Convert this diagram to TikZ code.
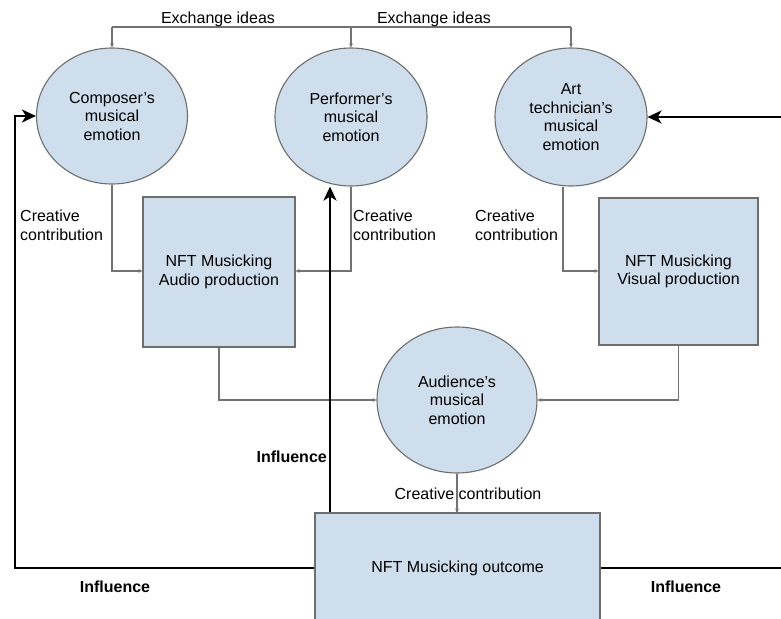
\documentclass[tikz,border=0pt]{standalone}
\usepackage{fontspec}
\setmainfont{Liberation Sans}
\usetikzlibrary{shapes.geometric,arrows.meta,positioning}

\definecolor{nodefill}{RGB}{207,222,237}
\definecolor{nodeline}{RGB}{110,110,110}
\definecolor{thinline}{RGB}{115,115,115}

\tikzset{
  every node/.style={font=\fontsize{16}{18.5}\selectfont},
  emotion/.style={ellipse, draw=nodeline, line width=1.1pt, fill=nodefill,
                  inner sep=0pt, align=center},
  prodbox/.style={rectangle, draw=nodeline, line width=1.1pt, fill=nodefill,
                  inner sep=0pt, align=center},
  flow/.style={draw=thinline, line width=1.1pt},
  flowarrow/.style={flow, -{Stealth[length=4pt,width=4pt]}},
  infl/.style={draw=black, line width=2.8pt, -{Stealth[length=14pt,width=13pt,inset=4pt]}},
  inflline/.style={draw=black, line width=2.8pt},
  note/.style={align=left, inner sep=0pt},
  boldnote/.style={font=\fontsize{16}{18.5}\selectfont\bfseries, inner sep=0pt}
}

\begin{document}
\begin{tikzpicture}[x=1pt, y=-1pt]
  \clip (0,0) rectangle (781,618);
  \fill[white] (0,0) rectangle (781,618);

  % emotions
  \node[emotion, minimum width=151pt, minimum height=136pt] (comp) at (112,116)
    {Composer's\\musical\\emotion};
  \node[emotion, minimum width=152pt, minimum height=138pt] (perf) at (351,117)
    {Performer's\\musical\\emotion};
  \node[emotion, minimum width=152pt, minimum height=138pt] (art) at (571,117)
    {Art\\technician's\\musical\\emotion};
  \node[emotion, minimum width=160pt, minimum height=146pt] (aud) at (457,400)
    {Audience's\\musical\\emotion};

  % productions and outcome
  \node[prodbox, minimum width=152pt, minimum height=150pt] (audio) at (219,272)
    {NFT Musicking\\Audio production};
  \node[prodbox, minimum width=159pt, minimum height=147pt] (visual) at (678.5,271.5)
    {NFT Musicking\\Visual production};
  \node[prodbox, minimum width=285pt, minimum height=110pt] (outcome) at (457.5,568)
    {NFT Musicking outcome};

  % helper coordinates
  \coordinate (exl) at (0,27);
  \coordinate (ccl) at (0,271);
  \coordinate (audl) at (0,400);
  \coordinate (lcorner) at (15,116);
  \coordinate (px) at (330,0);
  \coordinate (redge) at (781,0);
  \coordinate (artdrop) at (563,0);

  % exchange of ideas
  \draw[flow] (comp.north |- exl) -- (art.north |- exl);
  \foreach \n in {comp,perf,art}
    \draw[flowarrow] (\n.north |- exl) -- (\n.north);
  \node[anchor=base, inner sep=0pt] (ex1) at (218,24) {Exchange ideas};
  \node[anchor=base, inner sep=0pt] (ex2) at (434,24) {Exchange ideas};

  % creative contributions
  \draw[flowarrow] (comp.south) -- (comp.south |- ccl) -- (audio.west |- ccl);
  \draw[flowarrow] (perf.south) -- (perf.south |- ccl) -- (audio.east |- ccl);
  \draw[flowarrow] (art.south -| artdrop) -- (artdrop |- ccl) -- (visual.west |- ccl);
  \draw[flowarrow] (audio.south) -- (audio.south |- audl) -- (aud.west);
  \draw[flowarrow] (visual.south) -- (visual.south |- audl) -- (aud.east);
  \draw[flowarrow] (aud.south) -- (outcome.north -| aud.south);

  \node[note, anchor=base west] (cc1) at (20,240) {Creative\\contribution};
  \node[note, anchor=base west] (cc2) at (353,240) {Creative\\contribution};
  \node[note, anchor=base west] (cc3) at (475,240) {Creative\\contribution};
  \node[anchor=base, inner sep=0pt] (cc4) at (468,499) {Creative contribution};
  \draw[flow] (aud.south) -- (outcome.north -| aud.south);

  % influences
  \draw[infl] (outcome.west) -| (lcorner) -- (comp.west);
  \draw[infl] (outcome.north -| px) -- (perf.south -| px);
  \draw[inflline] (outcome.east) -- (outcome.east -| redge);
  \draw[infl] (art.east -| redge) -- (art.east);

  \node[boldnote, anchor=base east] (in1) at (327,462) {Influence};
  \node[boldnote, anchor=base] (in2) at (115,592) {Influence};
  \node[boldnote, anchor=base] (in3) at (686,592) {Influence};
\end{tikzpicture}
\end{document}
